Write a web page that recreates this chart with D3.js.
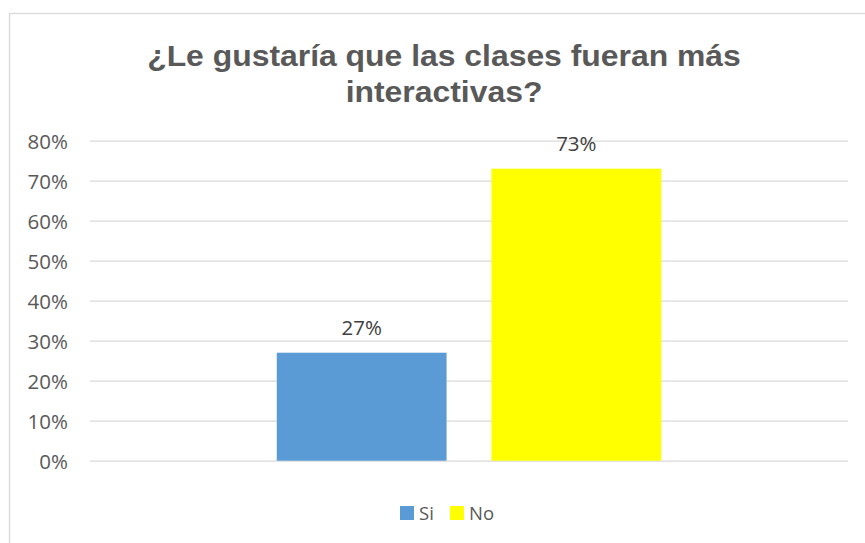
<!DOCTYPE html>
<html>
<head>
<meta charset="utf-8">
<script src="https://cdn.jsdelivr.net/npm/d3@7"></script>
<style>
  body { margin: 0; background: #fff; }
</style>
</head>
<body>
<div id="chart"></div>
<script>
// data
var series = ["Si", "No"]
var values = [0.27, 0.73]
var colors = ["#5B9BD5", "#FFFF00"]
var ticks = [0, 0.1, 0.2, 0.3, 0.4, 0.5, 0.6, 0.7, 0.8]
var titleLines = ["¿Le gustaría que las clases fueran más", "interactivas?"]

var width = 865,
    height = 543

var svg = d3.select("#chart")
    .append("svg")
        .attr("width", width)
        .attr("height", height)

// chart frame
svg.append("rect")
    .attr("x", 9.5)
    .attr("y", 13.5)
    .attr("width", 870)
    .attr("height", 560)
    .attr("fill", "#fff")
    .attr("stroke", "#d9d9d9")
    .attr("stroke-width", 1.3)

// title (the source picture is a bit stretched sideways)
svg.append("text")
    .attr("transform", "translate(444,0) scale(1.1,1)")
    .attr("text-anchor", "middle")
    .attr("font-family", "'Liberation Sans', Arial, sans-serif")
    .attr("font-weight", "bold")
    .attr("font-size", 29)
    .attr("fill", "#595959")
    .selectAll("tspan")
    .data(titleLines)
    .enter()
    .append("tspan")
        .attr("x", 0)
        .attr("y", function(d, i) { return 66 + i * 36 })
        .text(function(d) { return d })

// scales
var y = d3.scaleLinear()
    .domain([0, 0.8])
    .range([460.7, 140.7])

var x = d3.scaleBand()
    .domain(series)
    .range([90, 848])
    .paddingInner(0.209)
    .paddingOuter(0.87)

// gridlines + tick labels
var yAxis = svg.append("g")
    .attr("transform", "translate(90,0)")
    .call(d3.axisLeft(y)
        .tickValues(ticks)
        .tickSize(-758)
        .tickPadding(22)
        .tickFormat(d3.format(".0%")))

yAxis.select(".domain").remove()
yAxis.selectAll("line")
    .attr("stroke", "#d9d9d9")
    .attr("stroke-width", 1.3)
yAxis.selectAll("text")
    .attr("font-family", "'Open Sans', sans-serif")
    .attr("font-size", 20.5)
    .attr("fill", "#595959")
    .attr("dy", "0.36em")

// bars
svg.selectAll("rect.bar")
    .data(values)
    .enter()
    .append("rect")
        .attr("class", "bar")
        .attr("x", function(d, i) { return x(series[i]) })
        .attr("y", function(d) { return y(d) })
        .attr("width", x.bandwidth())
        .attr("height", function(d) { return y(0) - y(d) })
        .attr("fill", function(d, i) { return colors[i] })

// data labels
svg.selectAll("text.lbl")
    .data(values)
    .enter()
    .append("text")
        .attr("class", "lbl")
        .attr("x", function(d, i) { return x(series[i]) + x.bandwidth() / 2 })
        .attr("y", function(d) { return y(d) - 18 })
        .attr("text-anchor", "middle")
        .attr("font-family", "'Open Sans', sans-serif")
        .attr("font-size", 20.5)
        .attr("fill", "#404040")
        .text(function(d) { return d3.format(".0%")(d) })

// legend
var legendX = [400, 450]
var legend = svg.selectAll("g.leg")
    .data(series)
    .enter()
    .append("g")
        .attr("class", "leg")
        .attr("transform", function(d, i) { return "translate(" + legendX[i] + ",506)" })

legend.append("rect")
    .attr("width", 14)
    .attr("height", 14)
    .attr("fill", function(d, i) { return colors[i] })

legend.append("text")
    .attr("x", 19)
    .attr("y", 14)
    .attr("font-family", "'Open Sans', sans-serif")
    .attr("font-size", 18.5)
    .attr("fill", "#595959")
    .text(function(d) { return d })
</script>
</body>
</html>
